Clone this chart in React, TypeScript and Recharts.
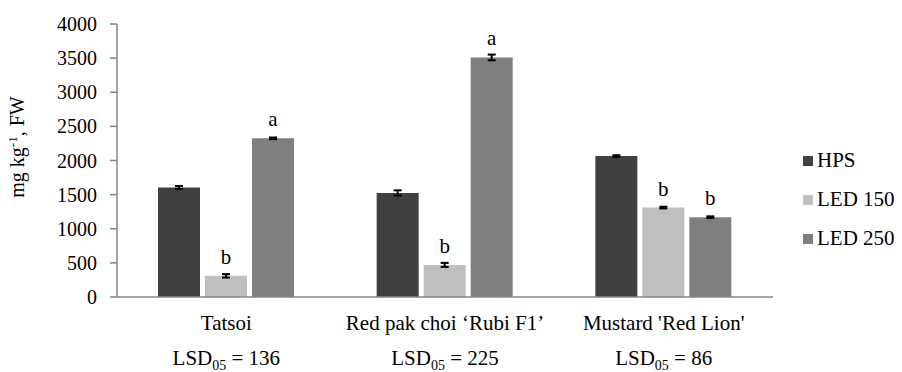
import { Bar, BarChart, ErrorBar, LabelList, XAxis, YAxis } from "recharts";

const categories = ["Tatsoi", "Red pak choi ‘Rubi F1’", "Mustard 'Red Lion'"];
const lsd = [136, 225, 86];

const hps = [1605, 1525, 2065];
const hpsErr = [22, 38, 12];
const led150 = [310, 470, 1310];
const led150Err = [25, 30, 12];
const led250 = [2325, 3510, 1170];
const led250Err = [12, 42, 12];

const led150Letters = ["b", "b", "b"];
const led250Letters = ["a", "a", "b"];

const yTicks = [0, 500, 1000, 1500, 2000, 2500, 3000, 3500, 4000];
const boundaryTicks = [0, 1, 2, 3];

const series = [
  { key: "hps", name: "HPS", color: "#404040" },
  { key: "led150", name: "LED 150", color: "#BFBFBF" },
  { key: "led250", name: "LED 250", color: "#7F7F7F" },
];

const data = categories.map((name, i) => ({
  name,
  lsd: lsd[i],
  hps: hps[i],
  hpsErr: hpsErr[i],
  led150: led150[i],
  led150Err: led150Err[i],
  led150Letter: led150Letters[i],
  led250: led250[i],
  led250Err: led250Err[i],
  led250Letter: led250Letters[i],
}));

const FONT = "Liberation Serif, DejaVu Serif, serif";
const AXIS = "#868686";

function CategoryTick(props: any) {
  const { x, y, payload, index } = props;
  const row = data[index] ?? data.find((d) => d.name === payload.value);
  return (
    <g style={{ fontFamily: FONT }} fill="#000">
      <text x={x} y={y + 25} textAnchor="middle" fontSize={21} style={{ fontFamily: FONT }}>
        {payload.value}
      </text>
      <text x={x} y={y + 60} textAnchor="middle" fontSize={21} style={{ fontFamily: FONT }}>
        LSD
        <tspan dy={5} fontSize={14}>05</tspan>
        <tspan dy={-5}>{` = ${row ? row.lsd : ""}`}</tspan>
      </text>
    </g>
  );
}

function NoTick() {
  return <g />;
}

function Letter(props: any) {
  const { x, y, width, value } = props;
  if (!value) return null;
  return (
    <text x={x + width / 2} y={y - 12} textAnchor="middle" style={{ fontFamily: FONT }} fontSize={21} fill="#000">
      {value}
    </text>
  );
}

function YLabel() {
  return (
    <text
      x={24}
      y={147}
      transform="rotate(-90, 24, 147)"
      textAnchor="middle"
      style={{ fontFamily: FONT }}
      fontSize={20}
      fill="#000"
    >
      mg kg
      <tspan dy={-7} fontSize={13}>-1</tspan>
      <tspan dy={7}>, FW</tspan>
    </text>
  );
}

export default function App() {
  return (
    <div style={{ position: "relative", width: 902, height: 372, background: "#fff", fontFamily: FONT }}>
      <style>{`body{margin:0} svg text{font-family:"Liberation Serif","DejaVu Serif",serif}`}</style>
      <BarChart
        width={902}
        height={372}
        data={data}
        margin={{ top: 24, right: 129, bottom: 0, left: 0 }}
        barSize={42}
        barGap={5}
      >
        <XAxis
          xAxisId="edges"
          type="number"
          domain={[0, 3]}
          ticks={boundaryTicks}
          height={0}
          axisLine={false}
          tickLine={{ stroke: AXIS, strokeWidth: 1.5 }}
          tickSize={7}
          tick={<NoTick />}
          allowDataOverflow
        />
        <XAxis
          xAxisId="cat"
          dataKey="name"
          height={75}
          axisLine={{ stroke: AXIS, strokeWidth: 1.5 }}
          tickLine={false}
          tick={<CategoryTick />}
          interval={0}
        />
        <YAxis
          width={117}
          domain={[0, 4000]}
          ticks={yTicks}
          axisLine={{ stroke: AXIS, strokeWidth: 1.5 }}
          tickLine={{ stroke: AXIS, strokeWidth: 1.5 }}
          tickSize={7}
          tickMargin={13}
          tick={{ fontSize: 20, fill: "#000" }}
          label={<YLabel />}
        />
        <Bar xAxisId="cat" dataKey="hps" name="HPS" fill={series[0].color} isAnimationActive={false}>
          <ErrorBar dataKey="hpsErr" width={4} stroke="#000" strokeWidth={2} />
        </Bar>
        <Bar xAxisId="cat" dataKey="led150" name="LED 150" fill={series[1].color} isAnimationActive={false}>
          <ErrorBar dataKey="led150Err" width={4} stroke="#000" strokeWidth={2} />
          <LabelList dataKey="led150Letter" content={<Letter />} />
        </Bar>
        <Bar xAxisId="cat" dataKey="led250" name="LED 250" fill={series[2].color} isAnimationActive={false}>
          <ErrorBar dataKey="led250Err" width={4} stroke="#000" strokeWidth={2} />
          <LabelList dataKey="led250Letter" content={<Letter />} />
        </Bar>
      </BarChart>
      <div style={{ position: "absolute", left: 803, top: 141, fontSize: 21, color: "#000" }}>
        {series.map((s) => (
          <div key={s.key} style={{ display: "flex", alignItems: "center", height: 39 }}>
            <span style={{ width: 10, height: 10, background: s.color, marginRight: 4, display: "inline-block" }} />
            <span>{s.name}</span>
          </div>
        ))}
      </div>
    </div>
  );
}
